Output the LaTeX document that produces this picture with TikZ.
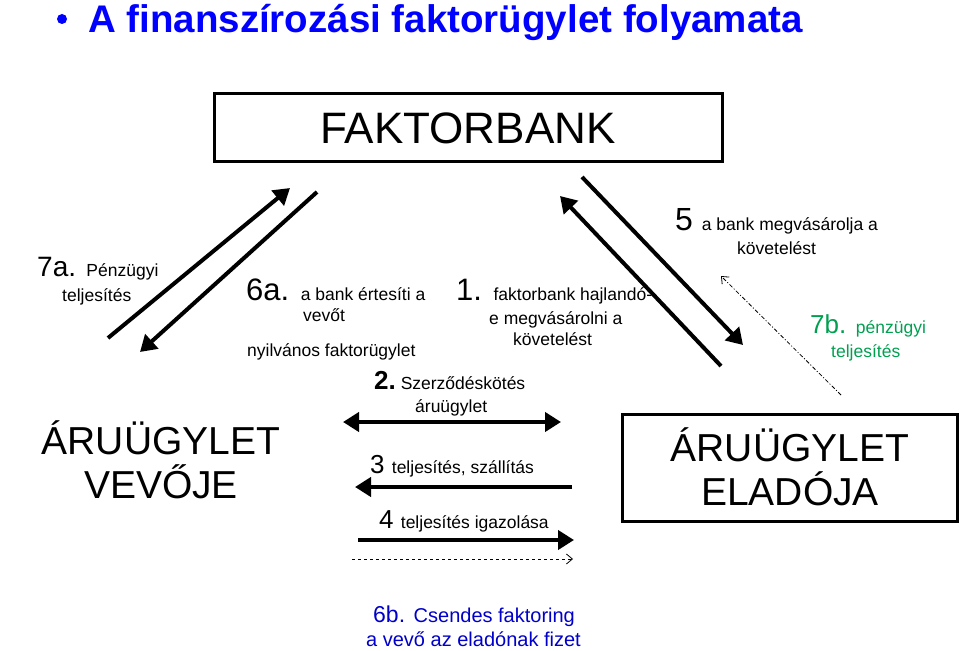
\documentclass[tikz,border=0pt]{standalone}
\usepackage{fontspec}
\setmainfont{Liberation Sans}
\usetikzlibrary{arrows.meta}
\definecolor{tblue}{RGB}{0,0,255}
\definecolor{tgreen}{RGB}{0,160,80}
\definecolor{dblue}{RGB}{0,0,200}
\newcommand{\sm}{\fontsize{17.5}{21}\selectfont}
\begin{document}
\begin{tikzpicture}[x=1pt,y=-1pt,
  thickarr/.style={line width=4pt,-{Triangle[length=16pt,width=19pt]}},
  thinarr/.style={dashed,line width=0.8pt,-{Straight Barb[length=6pt,width=10pt]}},
  txt/.style={inner sep=0pt,anchor=base west},
  box/.style={draw,line width=3pt}]
\useasboundingbox (0,0) rectangle (960,650);
\fill[tblue] (62,19) circle (5);
\node[txt,text=tblue,font=\bfseries\fontsize{38.5}{42}\selectfont] (title) at (88,33) {A finanszírozási faktorügylet folyamata};
\draw[box] (214,94) rectangle (722,161);
\node[font=\fontsize{44}{48}\selectfont] (bank) at (468,128) {FAKTORBANK};
\node[align=center,font=\fontsize{39}{44}\selectfont] (vevo) at (161,460) {ÁRUÜGYLET\\VEVŐJE};
\draw[box] (622,414) rectangle (957,521);
\node[align=center,font=\fontsize{39}{44}\selectfont] (elado) at (790,467) {ÁRUÜGYLET\\ELADÓJA};
% left arrows
\coordinate (l1a) at (108,338); \coordinate (l1b) at (290,188);
\coordinate (l2a) at (317,192); \coordinate (l2b) at (140,352);
\draw[thickarr] (l1a) -- (l1b);
\draw[thickarr] (l2a) -- (l2b);
% right arrows
\coordinate (r1a) at (582,177); \coordinate (r1b) at (743,345);
\coordinate (r2a) at (721,366); \coordinate (r2b) at (560,196);
\draw[thickarr] (r1a) -- (r1b);
\draw[thickarr] (r2a) -- (r2b);
\coordinate (d1a) at (841,395); \coordinate (d1b) at (721,276);
\draw[dash pattern=on 4pt off 2pt on 1pt off 2pt,line width=0.8pt,-{Straight Barb[length=6pt,width=10pt]}] (d1a) -- (d1b);
% horizontal arrows
\coordinate (h2a) at (343,422); \coordinate (h2b) at (561,422);
\draw[line width=4pt,{Triangle[length=16pt,width=19pt]}-{Triangle[length=16pt,width=19pt]}] (h2a) -- (h2b);
\coordinate (h3a) at (572,487); \coordinate (h3b) at (355,487);
\draw[thickarr] (h3a) -- (h3b);
\coordinate (h4a) at (358,540); \coordinate (h4b) at (574,540);
\draw[thickarr] (h4a) -- (h4b);
\coordinate (h5a) at (352,559); \coordinate (h5b) at (573,559);
\draw[thinarr] (h5a) -- (h5b);
% labels
\node[txt] (l7a) at (37,276) {\fontsize{28}{30}\selectfont 7a. \sm Pénzügyi};
\node[txt,font=\sm] (l7a2) at (62,301) {teljesítés};
\node[txt] (l6a) at (246,300) {\fontsize{31}{32}\selectfont 6a. \sm a bank értesíti a};
\node[txt,font=\sm] (l6a2) at (303,321) {vevőt};
\node[txt,font=\sm] (l6a3) at (247,356) {nyilvános faktorügylet};
\node[txt] (l1) at (456,300) {\fontsize{31}{32}\selectfont 1. \sm faktorbank hajlandó-};
\node[txt,font=\sm] (l12) at (489,324) {e megvásárolni a};
\node[txt,font=\sm] (l13) at (513,345) {követelést};
\node[txt] (l5) at (675,230) {\fontsize{32}{34}\selectfont 5 \sm a bank megvásárolja a};
\node[txt,font=\sm] (l52) at (737,254) {követelést};
\node[txt,text=tgreen] (l7b) at (810,333) {\fontsize{26}{28}\selectfont 7b. \sm pénzügyi};
\node[txt,text=tgreen,font=\sm] (l7b2) at (831,357) {teljesítés};
\node[txt] (l2) at (374,389) {\fontsize{26}{28}\selectfont\bfseries 2.\mdseries\sm\ Szerződéskötés};
\node[txt,font=\sm] (l22) at (415,412) {áruügylet};
\node[txt] (l3) at (370,473) {\fontsize{26}{28}\selectfont 3 \sm teljesítés, szállítás};
\node[txt] (l4) at (379,528) {\fontsize{26}{28}\selectfont 4 \sm teljesítés igazolása};
\node[txt,text=dblue] (l6b) at (373,622) {\fontsize{23}{26}\selectfont 6b. \fontsize{20}{22}\selectfont Csendes faktoring};
\node[txt,text=dblue,font=\fontsize{20}{22}\selectfont] (l6b2) at (366,646) {a vevő az eladónak fizet};
\end{tikzpicture}
\end{document}
